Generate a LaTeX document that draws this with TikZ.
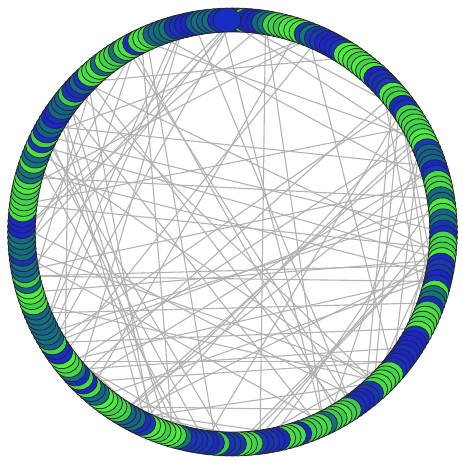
\documentclass[tikz,border=0pt]{standalone}
\usetikzlibrary{backgrounds,shapes.geometric}
\definecolor{nblue}{RGB}{25,35,205}
\definecolor{ngreen}{RGB}{80,238,60}
\definecolor{nteal}{RGB}{20,120,120}
\definecolor{edgegray}{RGB}{178,178,178}
\tikzset{
  vert/.style={ellipse,draw=black!85,line width=0.8pt,minimum width=28pt,minimum height=24pt,inner sep=0pt},
  edge/.style={draw=edgegray,line width=1.1pt}
}
\begin{document}
\begin{tikzpicture}[x=1pt,y=1pt]
\useasboundingbox (0,0) rectangle (462,460);
\pgfmathsetseed{11}
\xdef\curkind{2}
\foreach \i in {1,...,240}{
  \pgfmathsetmacro\ang{90-(\i-1)*1.5}
  \pgfmathtruncatemacro\sw{random(1,10)}
  \ifnum\sw>5
    \pgfmathtruncatemacro\nk{random(1,5)}
    \xdef\curkind{\nk}
  \fi
  \pgfmathtruncatemacro\mixv{random(70,100)}
  \ifnum\curkind<3
    \node[vert,fill=nblue!\mixv!nteal] (n\i) at ({232.5+211*cos(\ang)},{228+212*sin(\ang)}) {};
  \else\ifnum\curkind<5
    \node[vert,fill=ngreen!\mixv!nteal] (n\i) at ({232.5+211*cos(\ang)},{228+212*sin(\ang)}) {};
  \else
    \node[vert,fill=nteal!\mixv!nblue] (n\i) at ({232.5+211*cos(\ang)},{228+212*sin(\ang)}) {};
  \fi\fi
}
\begin{scope}[on background layer]
\fill[white] (0,0) rectangle (462,460);
\foreach \k in {1,...,130}{
  \pgfmathtruncatemacro\ea{random(1,240)}
  \pgfmathtruncatemacro\eb{random(1,240)}
  \draw[edge] (n\ea.center) -- (n\eb.center);
}
\end{scope}
\end{tikzpicture}
\end{document}
